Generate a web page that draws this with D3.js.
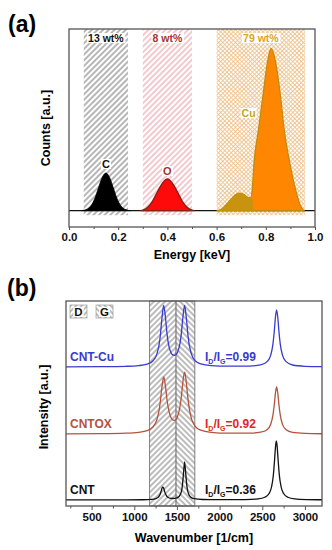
<!DOCTYPE html>
<html lang="en">
<head>
<meta charset="UTF-8">
<title>EDX and Raman</title>
<script src="https://cdn.jsdelivr.net/npm/d3@7"></script>
<style>
  body { margin: 0; background: #fff; }
  text { font-family: "Liberation Sans", Arial, sans-serif; font-weight: bold; }
</style>
</head>
<body>
<svg width="332" height="550"></svg>
<script>
// ---------- panel (a): EDX ----------
const elementNames = ["C", "O", "Cu"];
const wtPercent = [13, 8, 79];
const windowLo = [0.06, 0.30, 0.60];
const windowHi = [0.24, 0.50, 0.96];
const energyTicks = [0, 0.2, 0.4, 0.6, 0.8, 1.0];
const energyMinor = [0.1, 0.3, 0.5, 0.7, 0.9];

// [energy keV, counts a.u.]
const cPeak = [[0.05,0],[0.06,0.002],[0.075,0.009],[0.09,0.028],[0.105,0.067],[0.12,0.126],[0.135,0.183],[0.15,0.207],
  [0.165,0.183],[0.18,0.126],[0.195,0.067],[0.21,0.028],[0.225,0.009],[0.24,0.002],[0.25,0]];
const oPeak = [[0.29,0],[0.30,0.003],[0.32,0.018],[0.34,0.053],[0.36,0.105],[0.38,0.151],[0.40,0.174],
  [0.42,0.151],[0.44,0.105],[0.46,0.053],[0.48,0.018],[0.50,0.003],[0.51,0]];
const cuPeak = [[0.60,0],[0.615,0.005],[0.63,0.02],[0.65,0.05],[0.67,0.08],[0.69,0.097],[0.71,0.09],[0.725,0.075],
  [0.738,0.07],[0.745,0.12],[0.752,0.26],[0.77,0.444],[0.788,0.627],[0.806,0.81],[0.821,0.893],[0.841,0.81],
  [0.86,0.627],[0.875,0.444],[0.898,0.26],[0.925,0.095],[0.94,0.03],[0.955,0]];
const cuShoulder = [[0.60,0],[0.615,0.005],[0.63,0.02],[0.65,0.05],[0.67,0.08],[0.69,0.097],[0.71,0.09],[0.725,0.075],
  [0.738,0.07],[0.745,0.065],[0.75,0]];

// ---------- panel (b): Raman ----------
const sampleNames = ["CNT", "CNTOX", "CNT-Cu"];
const idigRatio = ["0.36", "0.92", "0.99"];
const stackOffset = [6, 72, 139];
const bandNames = ["D", "G"];
const bandLo = [1180, 1490];
const bandHi = [1490, 1710];
const waveTicks = [500, 1000, 1500, 2000, 2500, 3000];
const waveMinor = [250, 750, 1250, 1750, 2250, 2750];

// [wavenumber 1/cm, intensity a.u.]
const specCNT = [[200,0.1],[900,0.1],[1100,0.25],[1200,0.6],[1260,1.7],[1290,3.7],[1310,7.3],[1325,11.7],[1335,13.2],
  [1345,11.7],[1360,7.4],[1380,3.9],[1410,2.0],[1450,1.5],[1490,1.9],[1520,3.2],[1545,6.5],[1560,11.9],[1575,24.5],
  [1590,38.2],[1605,24.4],[1620,11.9],[1635,6.4],[1660,3.0],[1700,1.3],[1800,0.5],[2000,0.3],[2300,0.45],[2450,1.13],
  [2530,2.78],[2580,6.5],[2610,13.5],[2630,25],[2645,40.9],[2655,53.1],[2665,59],[2675,53.1],[2685,40.9],[2700,25],
  [2720,13.5],[2750,6.5],[2800,2.78],[2880,1.13],[3030,0.45],[3200,0.24]];
const specCNTOX = [[200,0.15],[600,0.32],[900,0.8],[1050,1.7],[1150,3.4],[1220,7.2],[1265,14.3],[1290,23.4],[1305,32.2],
  [1325,47.6],[1345,57],[1365,48.2],[1385,33.5],[1400,25.3],[1425,17.4],[1445,14.5],[1468,13.7],[1490,14.5],[1510,18.2],
  [1535,27],[1550,36],[1570,52.2],[1590,61.8],[1610,51.6],[1630,34.8],[1645,25.3],[1670,15.4],[1710,8.2],[1780,3.8],
  [1900,1.7],[2100,0.85],[2350,0.85],[2480,1.8],[2560,4.6],[2600,10],[2625,18.8],[2640,28.7],[2655,41.3],[2668,47],
  [2681,41.3],[2696,28.7],[2711,18.8],[2736,9.9],[2776,4.5],[2856,1.6],[3000,0.6],[3200,0.25]];
const specCNTCu = [[200,0.13],[600,0.3],[900,0.7],[1050,1.4],[1150,2.9],[1220,6.3],[1265,12.9],[1290,21.8],[1305,31.2],
  [1325,49.3],[1345,61.6],[1365,49.8],[1385,32.2],[1400,23.3],[1425,15.3],[1445,12.5],[1468,11.6],[1490,12.5],[1510,15.3],
  [1535,23.3],[1550,32.2],[1570,49.8],[1590,61.6],[1610,49.3],[1630,31.2],[1645,21.9],[1670,12.9],[1710,6.7],[1780,3.1],
  [1900,1.4],[2100,0.8],[2350,0.95],[2480,2.1],[2560,5.6],[2600,12.1],[2625,22.9],[2640,35],[2655,50.2],[2668,57.2],
  [2681,50.2],[2696,35],[2711,22.9],[2736,12.1],[2776,5.6],[2856,2.0],[3000,0.7],[3200,0.3]];
const spectra = [specCNT, specCNTOX, specCNTCu];

// ---------- styles ----------
const sampleColor = ["#111111", "#b4533c", "#3a3ad0"];
const ratioColor = ["#111111", "#e0262a", "#3a3ad0"];
const wtColor = ["#111111", "#a8332a", "#d9a526"];
const elemColor = ["#111111", "#a8332a", "#c9a227"];

const svg = d3.select("svg");
const defs = svg.append("defs");

function hatch(id, color, angle, size, sw) {
  const p = defs.append("pattern").attr("id", id)
    .attr("patternUnits", "userSpaceOnUse")
    .attr("width", size).attr("height", size)
    .attr("patternTransform", `rotate(${angle})`);
  p.append("rect").attr("width", size).attr("height", size).attr("fill", "white");
  p.append("line").attr("x1", size/2).attr("y1", 0).attr("x2", size/2).attr("y2", size)
    .attr("stroke", color).attr("stroke-width", sw);
  return p;
}
hatch("hGray", "#6e6e6e", 45, 4, 1);
hatch("hPink", "#e7939e", 45, 4, 1);
hatch("hD", "#6a6a6a", 45, 4, 0.9);
hatch("hG", "#6a6a6a", -45, 4, 0.9);
const cross = hatch("hCu", "#efbf86", 45, 3, 0.85);
cross.append("line").attr("x1", 0).attr("y1", 1.5).attr("x2", 3).attr("y2", 1.5)
  .attr("stroke", "#efbf86").attr("stroke-width", 0.85);
const regionFill = ["url(#hGray)", "url(#hPink)", "url(#hCu)"];

function labelWithBg(g, x, y, txt, color, size) {
  const t = g.append("text").attr("x", x).attr("y", y).attr("text-anchor", "middle")
    .attr("font-size", size).attr("fill", color).text(txt);
  const bb = t.node().getBBox();
  g.insert("rect", () => t.node()).attr("x", bb.x - 1).attr("y", bb.y + 1)
    .attr("width", bb.width + 2).attr("height", bb.height - 2).attr("fill", "white");
  return t;
}

// ===== panel (a) =====
const A = {l: 69, r: 315, t: 29, b: 227};
const xa = d3.scaleLinear().domain([0, 1]).range([A.l, A.r]);
const ya = d3.scaleLinear().domain([-0.09, 1.0]).range([A.b, A.t]);
const ga = svg.append("g");

ga.selectAll(".win").data(elementNames).join("rect")
  .attr("x", (d, i) => xa(windowLo[i]))
  .attr("width", (d, i) => xa(windowHi[i]) - xa(windowLo[i]))
  .attr("y", A.t).attr("height", ya(-0.025) - A.t)
  .attr("fill", (d, i) => regionFill[i]);

ga.append("line").attr("x1", A.l).attr("x2", A.r).attr("y1", ya(0)).attr("y2", ya(0))
  .attr("stroke", "#111").attr("stroke-width", 1.2);

const areaA = d3.area().x(d => xa(d[0])).y0(ya(0)).y1(d => ya(d[1])).curve(d3.curveMonotoneX);
ga.append("path").attr("d", areaA(cPeak)).attr("fill", "#000").attr("stroke", "#000").attr("stroke-width", 0.8);
ga.append("path").attr("d", areaA(oPeak)).attr("fill", "#ff0a0a").attr("stroke", "#8a1f14").attr("stroke-width", 1.4);
ga.append("path").attr("d", areaA(cuPeak)).attr("fill", "#ff8600").attr("stroke", "#c08c10").attr("stroke-width", 1.3);
ga.append("path").attr("d", areaA(cuShoulder)).attr("fill", "#c8930e");

wtPercent.forEach((w, i) => {
  labelWithBg(ga, xa((windowLo[i] + windowHi[i]) / 2), ya(0.928), `${w} wt%`, wtColor[i], 10.5);
});
labelWithBg(ga, xa(0.15), ya(0.235), elementNames[0], elemColor[0], 11);
labelWithBg(ga, xa(0.40), ya(0.196), elementNames[1], elemColor[1], 11);
labelWithBg(ga, xa(0.73), ya(0.515), elementNames[2], elemColor[2], 10.5);

ga.append("rect").attr("x", A.l).attr("y", A.t).attr("width", A.r - A.l).attr("height", A.b - A.t)
  .attr("fill", "none").attr("stroke", "#555").attr("stroke-width", 1.3);

ga.append("g").attr("transform", `translate(0,${A.b})`)
  .call(d3.axisBottom(xa).tickValues(energyTicks).tickFormat(d3.format(".1f")).tickSize(3).tickPadding(3));
ga.append("g").attr("transform", `translate(0,${A.b})`)
  .call(d3.axisBottom(xa).tickValues(energyMinor).tickFormat("").tickSize(2));

ga.append("text").attr("x", (A.l + A.r) / 2).attr("y", 259).attr("text-anchor", "middle")
  .attr("font-size", 12.5).text("Energy [keV]");
ga.append("text").attr("transform", "translate(50,128) rotate(-90)").attr("text-anchor", "middle")
  .attr("font-size", 12.5).text("Counts [a.u.]");
ga.append("text").attr("x", 8).attr("y", 32).attr("font-size", 23)
  .attr("font-family", "DejaVu Sans, sans-serif").text("(a)");

// ===== panel (b) =====
const B = {l: 66, r: 322, t: 301, b: 506};
const xb = d3.scaleLinear().domain([200, 3200]).range([B.l, B.r]);
const yb = d3.scaleLinear().domain([0, 205]).range([B.b, B.t]);
const gb = svg.append("g");

gb.selectAll(".band").data(bandNames).join("rect")
  .attr("x", (d, i) => xb(bandLo[i]))
  .attr("width", (d, i) => xb(bandHi[i]) - xb(bandLo[i]))
  .attr("y", B.t).attr("height", B.b - B.t)
  .attr("fill", (d, i) => i === 0 ? "url(#hD)" : "url(#hG)")
  .attr("stroke", "#666").attr("stroke-width", 0.8);

const lineB = d3.line().x(d => xb(d[0])).curve(d3.curveMonotoneX);
spectra.forEach((s, i) => {
  gb.append("path")
    .attr("d", lineB.y(d => yb(d[1] + stackOffset[i]))(s))
    .attr("fill", "none").attr("stroke", sampleColor[i]).attr("stroke-width", 1.3);
});

const labelY = [494, 428, 361];
sampleNames.forEach((n, i) => {
  gb.append("text").attr("x", 70).attr("y", labelY[i]).attr("font-size", 12)
    .attr("fill", sampleColor[i]).text(n);
  const t = gb.append("text").attr("x", 205).attr("y", labelY[i]).attr("font-size", 12)
    .attr("fill", ratioColor[i]);
  t.append("tspan").text("I");
  t.append("tspan").attr("font-size", 7).attr("dy", 3).text("D");
  t.append("tspan").attr("dy", -3).text("/I");
  t.append("tspan").attr("font-size", 7).attr("dy", 3).text("G");
  t.append("tspan").attr("dy", -3).text("=" + idigRatio[i]);
});

// legend
const legX = [70, 96];
bandNames.forEach((n, i) => {
  gb.append("rect").attr("x", legX[i]).attr("y", 305).attr("width", 17).attr("height", 13)
    .attr("fill", i === 0 ? "url(#hD)" : "url(#hG)").attr("stroke", "#888").attr("stroke-width", 0.6);
  labelWithBg(gb, legX[i] + 8.5, 316, n, "#111", 11.5);
});

gb.append("rect").attr("x", B.l).attr("y", B.t).attr("width", B.r - B.l).attr("height", B.b - B.t)
  .attr("fill", "none").attr("stroke", "#555").attr("stroke-width", 1.3);

gb.append("g").attr("transform", `translate(0,${B.b})`)
  .call(d3.axisBottom(xb).tickValues(waveTicks).tickFormat(d3.format("d")).tickSize(4).tickPadding(3));
gb.append("g").attr("transform", `translate(0,${B.b})`)
  .call(d3.axisBottom(xb).tickValues(waveMinor).tickFormat("").tickSize(2.5));

gb.append("text").attr("x", (B.l + B.r) / 2).attr("y", 542).attr("text-anchor", "middle")
  .attr("font-size", 12.5).text("Wavenumber [1/cm]");
gb.append("text").attr("transform", "translate(48,407) rotate(-90)").attr("text-anchor", "middle")
  .attr("font-size", 12.5).text("Intensity [a.u.]");
gb.append("text").attr("x", 7).attr("y", 296).attr("font-size", 23)
  .attr("font-family", "DejaVu Sans, sans-serif").text("(b)");

svg.selectAll(".tick text").attr("font-size", 11.5).attr("font-weight", "bold")
  .attr("font-family", "Liberation Sans, Arial, sans-serif").attr("fill", "#111");
svg.selectAll(".domain").remove();
svg.selectAll(".tick line").attr("stroke", "#555");
</script>
</body>
</html>
